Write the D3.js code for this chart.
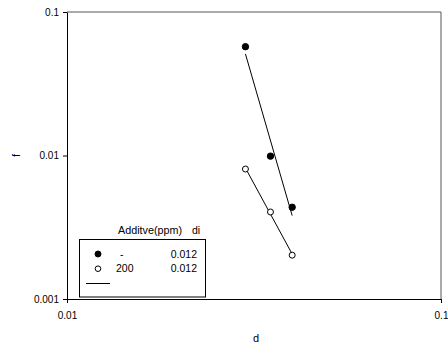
<!DOCTYPE html>
<html>
<head>
<meta charset="utf-8">
<script src="https://cdn.jsdelivr.net/npm/d3@7"></script>
<style>
  html, body { margin: 0; padding: 0; background: #fff; }
  svg { display: block; font-family: "Liberation Sans", Arial, sans-serif; }
</style>
</head>
<body>
<svg id="chart" width="448" height="345"></svg>
<script>
// Friction factor f against d, with and without additive
const dValues = [0.03, 0.035, 0.04];
const fNoAdditive = [0.0573, 0.0099, 0.00436];
const fAdditive200 = [0.00805, 0.00404, 0.00202];
const xTicks = [0.01, 0.1];
const yTicks = [0.001, 0.01, 0.1];
const legendRows = [
  { additive: "-", di: "0.012", filled: true },
  { additive: "200", di: "0.012", filled: false }
];

const svg = d3.select("#chart");
const margin = { left: 67, right: 441, top: 12, bottom: 299 };

const x = d3.scaleLog().domain([0.01, 0.1]).range([margin.left, margin.right]);
const y = d3.scaleLog().domain([0.001, 0.1]).range([margin.bottom, margin.top]);

// Least-squares power-law fit in log-log space
function powerFit(xs, ys) {
  const lx = xs.map(Math.log10), ly = ys.map(Math.log10);
  const mx = d3.mean(lx), my = d3.mean(ly);
  const sxy = d3.sum(lx, (v, i) => (v - mx) * (ly[i] - my));
  const sxx = d3.sum(lx, v => (v - mx) * (v - mx));
  const b = sxy / sxx, a = my - b * mx;
  return xs.map(v => [v, Math.pow(10, a + b * Math.log10(v))]);
}

// Frame: top and right borders
svg.append("line").attr("x1", margin.left).attr("x2", margin.right)
  .attr("y1", margin.top).attr("y2", margin.top)
  .attr("stroke", "#555").attr("stroke-width", 1);
svg.append("line").attr("x1", margin.right).attr("x2", margin.right)
  .attr("y1", margin.top).attr("y2", margin.bottom)
  .attr("stroke", "#555").attr("stroke-width", 1);

// Axes
const fmt = d => String(d);
const xAxis = svg.append("g").attr("transform", `translate(0,${margin.bottom})`)
  .call(d3.axisBottom(x).tickValues(xTicks).tickFormat(fmt).tickSize(4).tickSizeOuter(0));
const yAxis = svg.append("g").attr("transform", `translate(${margin.left},0)`)
  .call(d3.axisLeft(y).tickValues(yTicks).tickFormat(fmt).tickSize(4).tickSizeOuter(0));
[xAxis, yAxis].forEach(g => {
  g.selectAll("path, line").attr("stroke", "#000").attr("stroke-width", 1);
  g.selectAll("text").attr("font-size", 10).attr("fill", "#000")
    .attr("font-family", "Liberation Sans, Arial, sans-serif");
});
xAxis.selectAll("text").attr("dy", "1.3em");
yAxis.selectAll("text").attr("dx", "-0.1em");

// Axis titles
svg.append("text").attr("x", (margin.left + margin.right) / 2 + 2).attr("y", 342)
  .attr("text-anchor", "middle").attr("font-size", 11).text("d");
svg.append("text").attr("transform", `translate(20,${(margin.top + margin.bottom) / 2}) rotate(-90)`)
  .attr("text-anchor", "middle").attr("font-size", 11).text("f");

// Regression lines
const line = d3.line().x(d => x(d[0])).y(d => y(d[1]));
[fNoAdditive, fAdditive200].forEach(series => {
  const fit = powerFit(dValues, series);
  svg.append("path").attr("d", line([fit[0], fit[fit.length - 1]]))
    .attr("fill", "none").attr("stroke", "#000").attr("stroke-width", 1);
});

// Data points
svg.append("g").selectAll("circle").data(dValues.map((d, i) => [d, fNoAdditive[i]]))
  .join("circle").attr("cx", d => x(d[0])).attr("cy", d => y(d[1])).attr("r", 3.2)
  .attr("fill", "#000").attr("stroke", "#000");
svg.append("g").selectAll("circle").data(dValues.map((d, i) => [d, fAdditive200[i]]))
  .join("circle").attr("cx", d => x(d[0])).attr("cy", d => y(d[1])).attr("r", 3)
  .attr("fill", "#fff").attr("stroke", "#000").attr("stroke-width", 1);

// Legend
const lg = svg.append("g");
lg.append("text").attr("x", 118).attr("y", 234).attr("font-size", 10.5)
  .attr("textLength", 64).attr("lengthAdjust", "spacingAndGlyphs").text("Additve(ppm)");
lg.append("text").attr("x", 192).attr("y", 234).attr("font-size", 10.5).text("di");
lg.append("rect").attr("x", 79.5).attr("y", 239.5).attr("width", 126).attr("height", 57.5)
  .attr("fill", "#fff").attr("stroke", "#000").attr("stroke-width", 1);
legendRows.forEach((r, i) => {
  const cy = 254 + i * 14.7;
  lg.append("circle").attr("cx", 98).attr("cy", cy).attr("r", r.filled ? 3 : 2.8)
    .attr("fill", r.filled ? "#000" : "#fff").attr("stroke", "#000");
  lg.append("text").attr("x", r.additive === "-" ? 120 : 116).attr("y", cy + 3.5)
    .attr("font-size", 10.5).text(r.additive);
  lg.append("text").attr("x", 197).attr("y", cy + 3.5).attr("text-anchor", "end")
    .attr("font-size", 10.5).text(r.di);
});
lg.append("line").attr("x1", 86).attr("x2", 110).attr("y1", 283.5).attr("y2", 283.5)
  .attr("stroke", "#000").attr("stroke-width", 1);
</script>
</body>
</html>
